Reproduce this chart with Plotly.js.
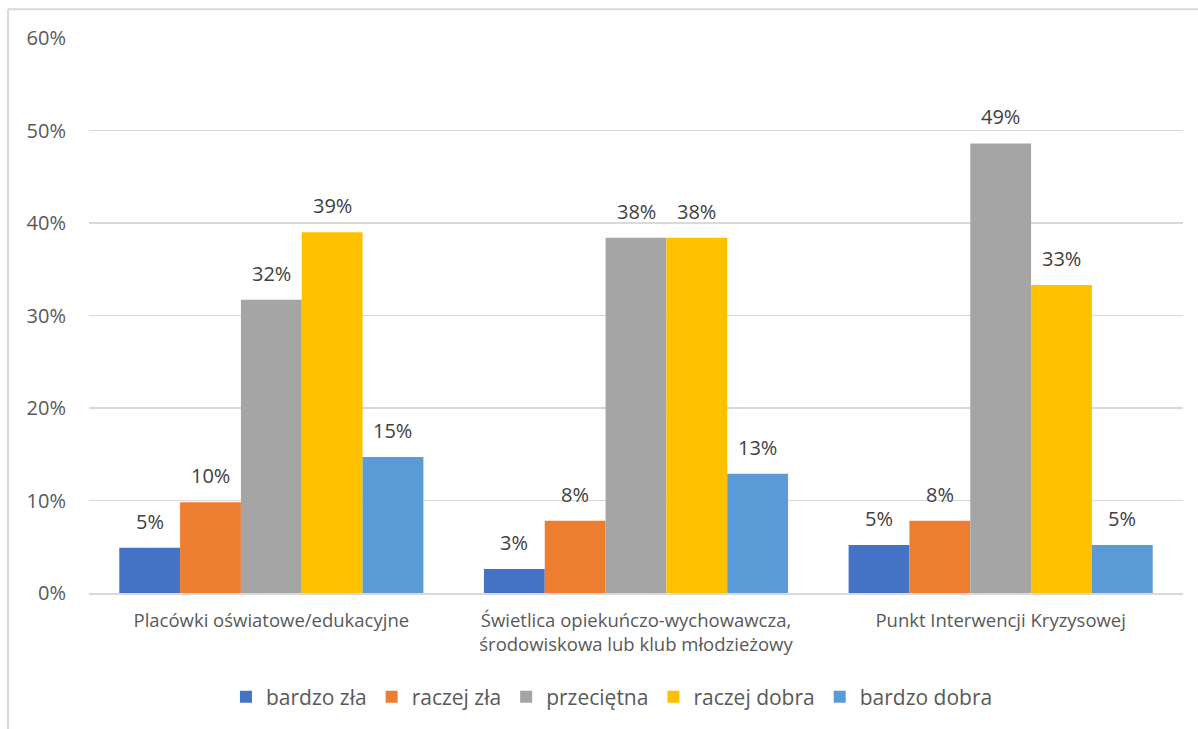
<!DOCTYPE html>
<html>
<head>
<meta charset="utf-8">
<script src="https://cdn.plot.ly/plotly-3.0.1.min.js"></script>
<style>
html,body{margin:0;padding:0;background:#fff;}
#chart{width:1198px;height:729px;}
</style>
</head>
<body>
<div id="chart"></div>
<script>
const categories = [
  "Placówki oświatowe/edukacyjne",
  "Świetlica opiekuńczo-wychowawcza,<br>środowiskowa lub klub młodzieżowy",
  "Punkt Interwencji Kryzysowej"
];
const seriesNames = ["bardzo zła", "raczej zła", "przeciętna", "raczej dobra", "bardzo dobra"];
const bardzoZla   = [0.049, 0.026, 0.052];
const raczejZla   = [0.098, 0.078, 0.078];
const przecietna  = [0.317, 0.384, 0.486];
const raczejDobra = [0.390, 0.384, 0.333];
const bardzoDobra = [0.147, 0.129, 0.052];
const seriesValues = [bardzoZla, raczejZla, przecietna, raczejDobra, bardzoDobra];
const colors = ["#4472C4", "#ED7D31", "#A5A5A5", "#FFC000", "#5B9BD5"];
const yTickVals = [0, 0.1, 0.2, 0.3, 0.4, 0.5, 0.6];
const yTickText = ["0%", "10%", "20%", "30%", "40%", "50%", "60%"];

const font = "Open Sans, Noto Sans, sans-serif";
const W = 1198, H = 729;
const margin = {l: 89, r: 15, t: 38, b: 136};
const bargap = 0.166;
const nSeries = seriesNames.length;
const catWidthPx = (W - margin.l - margin.r) / categories.length;
const barWidthPx = catWidthPx * (1 - bargap) / nSeries;

const traces = seriesNames.map((name, i) => ({
  type: "bar",
  name: name,
  x: categories,
  y: seriesValues[i],
  marker: {color: colors[i]},
  hoverinfo: "name+y"
}));

const annotations = [];
seriesValues.forEach((vals, i) => {
  vals.forEach((v, j) => {
    annotations.push({
      x: categories[j], y: v, xref: "x", yref: "y",
      text: Math.round(v * 100) + "%",
      showarrow: false,
      xanchor: "center", yanchor: "bottom",
      xshift: (i - (nSeries - 1) / 2) * barWidthPx,
      yshift: 11,
      font: {family: font, size: 20, color: "#404040"}
    });
  });
});

const layout = {
  width: W,
  height: H,
  margin: margin,
  paper_bgcolor: "#ffffff",
  plot_bgcolor: "#ffffff",
  barmode: "group",
  bargap: bargap,
  bargroupgap: 0,
  font: {family: font, color: "#595959"},
  xaxis: {
    type: "category",
    showgrid: false,
    showline: true,
    linecolor: "#D9D9D9",
    linewidth: 1.5,
    ticks: "",
    ticklabelstandoff: 10,
    tickfont: {family: font, size: 18.5, color: "#595959"},
    automargin: false
  },
  yaxis: {
    range: [0, 0.6],
    tickvals: yTickVals,
    ticktext: yTickText,
    showgrid: true,
    gridcolor: "#D9D9D9",
    gridwidth: 1.5,
    zeroline: false,
    showline: false,
    ticks: "",
    ticklabelstandoff: 22,
    tickfont: {family: font, size: 20, color: "#595959"},
    automargin: false
  },
  showlegend: true,
  legend: {
    orientation: "h",
    x: 0.478,
    xanchor: "center",
    xref: "paper",
    yref: "container",
    y: (H - 697) / H,
    yanchor: "middle",
    font: {family: font, size: 21, color: "#595959"},
    traceorder: "normal"
  },
  annotations: annotations,
  shapes: [
    {type: "line", xref: "paper", yref: "paper", x0: -0.074, x1: 1.1, y0: 1.052, y1: 1.052,
     line: {color: "#D9D9D9", width: 2}},
    {type: "line", xref: "paper", yref: "paper", x0: -0.074, x1: -0.074, y0: 1.052, y1: -0.3,
     line: {color: "#D9D9D9", width: 2}}
  ]
};

Plotly.newPlot("chart", traces, layout, {displayModeBar: false, staticPlot: true});
</script>
</body>
</html>
